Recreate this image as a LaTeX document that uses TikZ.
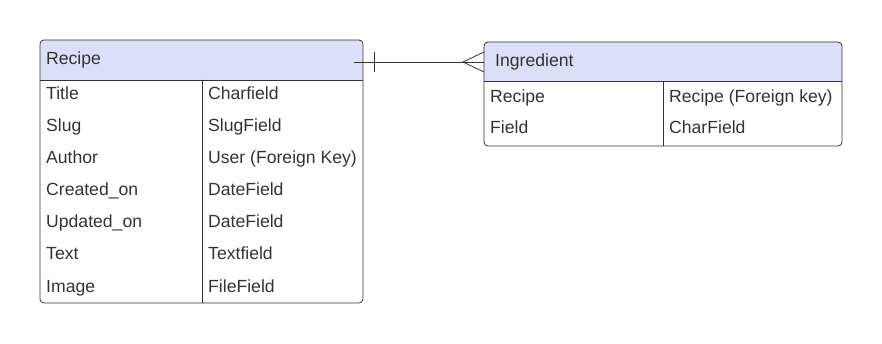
\documentclass[tikz,border=0pt]{standalone}
\usepackage{fontspec}
\setmainfont{Liberation Sans}
\usepackage{tikz}
\usetikzlibrary{positioning, calc}
\definecolor{erline}{RGB}{51, 51, 51}
\definecolor{erhead}{RGB}{221, 223, 250}

\tikzset{
  field/.style={anchor=base west, inner sep=0pt, text=erline, font=\fontsize{17.6}{20}\selectfont},
  frame/.style={draw=erline, line width=0.8pt}
}

\begin{document}
\begin{tikzpicture}[x=1pt, y=-1pt]
  \useasboundingbox (0,0) rectangle (882,344);

  % Recipe table
  \fill[erhead] (40,80) {[rounded corners=4pt] -- (40,40) -- (363,40)} -- (363,80) -- cycle;
  \draw[frame, rounded corners=4pt] (40,40) rectangle (363,303);
  \draw[frame] (40,80) -- (363,80);
  \draw[frame] (202,80) -- (202,303);
  \node[field] (recipehead) at (46,65) {Recipe};
  \foreach \fname/\ftype [count=\i] in {Title/Charfield, Slug/SlugField,
      Author/User (Foreign Key), Created\_on/DateField, Updated\_on/DateField,
      Text/Textfield, Image/FileField} {
    \node[field] (rname\i) at (46,{68+32*\i}) {\fname};
    \node[field] (rtype\i) at (208,{68+32*\i}) {\ftype};
  }

  % Ingredient table
  \fill[erhead] (484,81) {[rounded corners=4pt] -- (484,42) -- (842,42)} -- (842,81) -- cycle;
  \draw[frame, rounded corners=4pt] (484,42) rectangle (842,146);
  \draw[frame] (484,81) -- (842,81);
  \draw[frame] (663,81) -- (663,146);
  \node[field] (inghead) at (495,66.5) {Ingredient};
  \node[field] (iname1) at (490,102.5) {Recipe};
  \node[field] (itype1) at (669,102.5) {Recipe (Foreign key)};
  \node[field] (iname2) at (490,134) {Field};
  \node[field] (itype2) at (669,134) {CharField};

  % one recipe -- many ingredients
  \coordinate (relone) at (354,62);
  \coordinate (relmany) at (484,62);
  \draw[erline, line width=0.8pt] (relone) -- (relmany);
  \draw[erline, line width=0.8pt] ($(relone)+(20,-10)$) -- ($(relone)+(20,10)$);
  \draw[erline, line width=0.8pt] ($(relmany)+(0,-10)$) -- ($(relmany)+(-21,0)$) -- ($(relmany)+(0,10)$);
\end{tikzpicture}
\end{document}
